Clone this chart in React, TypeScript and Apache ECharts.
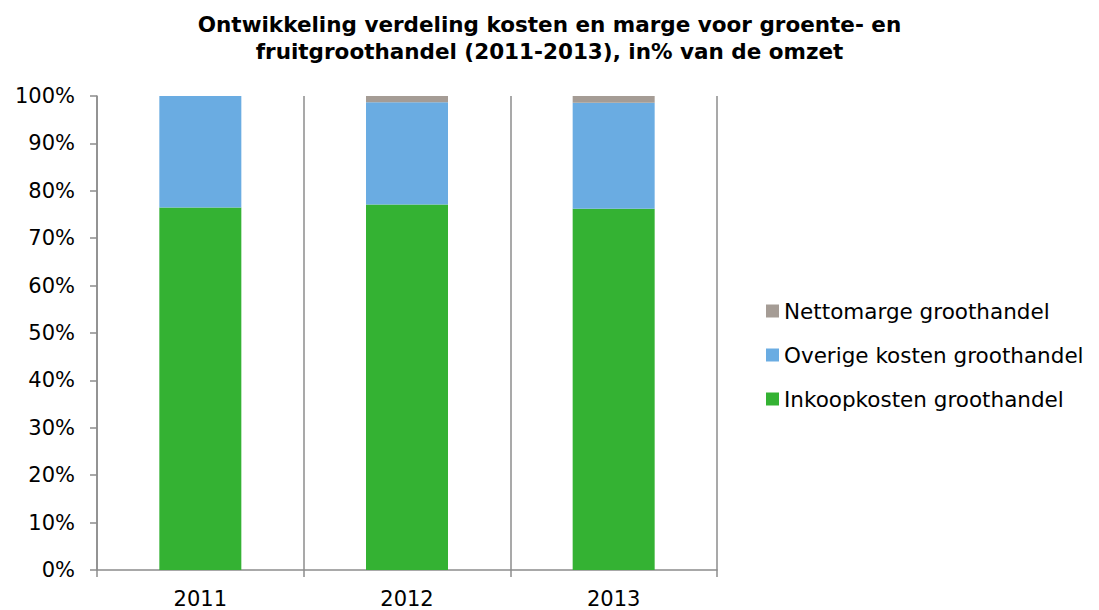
import React, { useEffect, useRef } from "react";
import * as echarts from "echarts";

const categories = ["2011", "2012", "2013"];
const inkoopkosten = [76.5, 77.1, 76.2];
const overigeKosten = [23.5, 21.6, 22.4];
const nettomarge = [0, 1.3, 1.4];
const yTicks = [0, 10, 20, 30, 40, 50, 60, 70, 80, 90, 100];

const seriesNames = ["Inkoopkosten groothandel", "Overige kosten groothandel", "Nettomarge groothandel"];
const colors = ["#34b233", "#6aace2", "#a59c95"];

export default function App() {
  const ref = useRef<HTMLDivElement>(null);
  useEffect(() => {
    document.body.style.margin = "0";
    if (!ref.current) return;
    const chart = echarts.init(ref.current, null, { renderer: "svg" });
    const font = "'DejaVu Sans', Verdana, sans-serif";
    const values = [inkoopkosten, overigeKosten, nettomarge];
    chart.setOption({
      animation: false,
      textStyle: { fontFamily: font },
      title: {
        text: "Ontwikkeling verdeling kosten en marge voor groente- en\nfruitgroothandel (2011-2013), in% van de omzet",
        left: "center",
        top: 6,
        textStyle: { fontFamily: font, fontSize: 21.5, fontWeight: "bold", color: "#000", lineHeight: 27 },
      },
      legend: {
        orient: "vertical",
        left: 761,
        top: 295,
        itemWidth: 13,
        itemHeight: 13,
        itemGap: 22,
        icon: "rect",
        data: [seriesNames[2], seriesNames[1], seriesNames[0]],
        textStyle: { fontFamily: font, fontSize: 21.5, color: "#000", lineHeight: 21 },
      },
      grid: { left: 97, right: 382, top: 96, bottom: 40, containLabel: false },
      xAxis: {
        type: "category",
        data: categories,
        boundaryGap: true,
        axisLine: { show: true, lineStyle: { color: "#8c8c8c", width: 1.5 } },
        axisTick: { show: true, length: 7, alignWithLabel: false, lineStyle: { color: "#8c8c8c", width: 1.5 } },
        splitLine: { show: true, lineStyle: { color: "#8c8c8c", width: 1.5 } },
        axisLabel: { fontFamily: font, fontSize: 21, color: "#000", margin: 18 },
      },
      yAxis: {
        type: "value",
        min: 0,
        max: 100,
        interval: 10,
        axisLine: { show: true, lineStyle: { color: "#8c8c8c", width: 1.5 } },
        axisTick: { show: true, length: 7, lineStyle: { color: "#8c8c8c", width: 1.5 } },
        splitLine: { show: false },
        axisLabel: {
          fontFamily: font,
          fontSize: 21,
          color: "#000",
          margin: 22,
          formatter: (v: number) => (yTicks.includes(v) ? v + "%" : ""),
        },
      },
      series: seriesNames.map((name, i) => ({
        name,
        type: "bar",
        stack: "total",
        barWidth: 82,
        data: values[i],
        itemStyle: { color: colors[i] },
      })),
    });
    return () => chart.dispose();
  }, []);
  return <div ref={ref} style={{ width: 1099, height: 610 }} />;
}
